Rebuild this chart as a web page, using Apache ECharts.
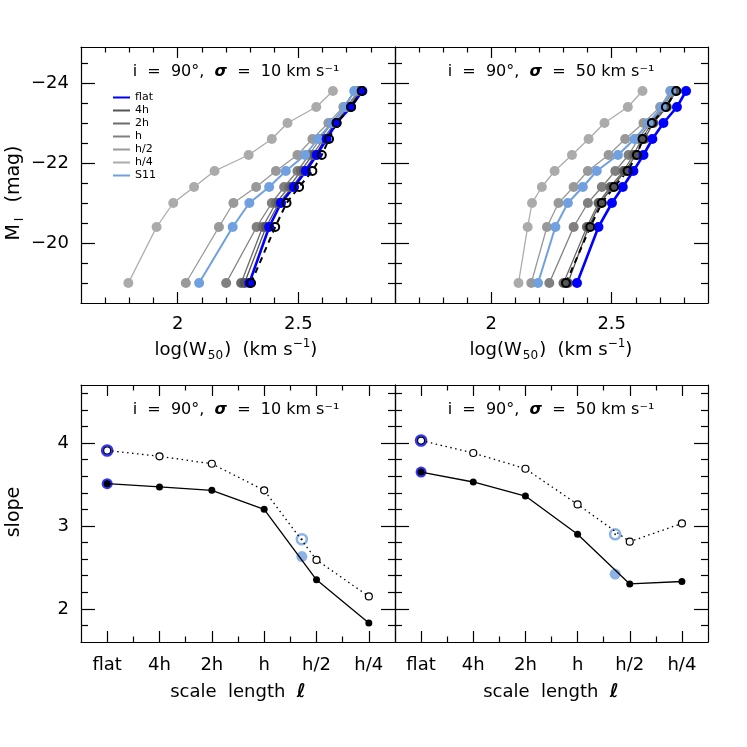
<!DOCTYPE html>
<html><head><meta charset="utf-8">
<script src="https://cdn.jsdelivr.net/npm/echarts@6/dist/echarts.min.js"></script>
<style>html,body{margin:0;padding:0;background:#fff}#c{width:747px;height:747px}</style>
</head><body><div id="c"></div>
<script>
// ---------- data ----------
const mags = [-19.0, -20.4, -21.0, -21.4, -21.8, -22.2, -22.6, -23.0, -23.4, -23.8];
const scaleNames = ['flat', '4h', '2h', 'h', 'h/2', 'h/4', 'S11'];
const scaleTicks = ['flat', '4h', '2h', 'h', 'h/2', 'h/4'];
// log(W50), sigma = 10 km/s
const w10_flat = [2.297, 2.379, 2.428, 2.482, 2.531, 2.576, 2.617, 2.658, 2.718, 2.765];
const w10_4h   = [2.277, 2.366, 2.420, 2.475, 2.523, 2.569, 2.610, 2.655, 2.714, 2.759];
const w10_2h   = [2.263, 2.352, 2.407, 2.462, 2.510, 2.558, 2.603, 2.651, 2.707, 2.755];
const w10_h    = [2.201, 2.327, 2.390, 2.441, 2.496, 2.544, 2.590, 2.638, 2.700, 2.748];
const w10_h2   = [2.034, 2.171, 2.231, 2.325, 2.407, 2.496, 2.558, 2.624, 2.686, 2.734];
const w10_h4   = [1.796, 1.913, 1.982, 2.068, 2.153, 2.294, 2.390, 2.455, 2.574, 2.643];
const w10_S11  = [2.089, 2.228, 2.297, 2.379, 2.448, 2.528, 2.581, 2.638, 2.693, 2.731];
const w10_ref  = [2.304, 2.404, 2.451, 2.503, 2.558, 2.597, 2.627, 2.658, 2.718, 2.762];
// log(W50), sigma = 50 km/s
const w50_flat = [2.356, 2.445, 2.501, 2.546, 2.590, 2.632, 2.669, 2.715, 2.771, 2.809];
const w50_4h   = [2.318, 2.404, 2.452, 2.503, 2.556, 2.600, 2.636, 2.673, 2.729, 2.768];
const w50_2h   = [2.300, 2.397, 2.445, 2.494, 2.549, 2.590, 2.625, 2.667, 2.722, 2.761];
const w50_h    = [2.241, 2.342, 2.401, 2.459, 2.515, 2.570, 2.611, 2.660, 2.715, 2.754];
const w50_h2   = [2.166, 2.231, 2.279, 2.342, 2.401, 2.487, 2.556, 2.632, 2.701, 2.743];
const w50_h4   = [2.113, 2.151, 2.169, 2.210, 2.263, 2.335, 2.404, 2.470, 2.567, 2.628];
const w50_S11  = [2.194, 2.266, 2.318, 2.380, 2.438, 2.526, 2.595, 2.653, 2.708, 2.747];
const w50_ref  = [2.310, 2.411, 2.459, 2.510, 2.566, 2.605, 2.628, 2.667, 2.725, 2.768];
// slopes vs scale length
const slope10_solid  = [3.51, 3.47, 3.43, 3.20, 2.35, 1.83];
const slope10_dotted = [3.91, 3.84, 3.75, 3.43, 2.59, 2.15];
const slope10_S11    = [2.63, 2.84];   // [solid, dotted]
const slope50_solid  = [3.65, 3.53, 3.36, 2.90, 2.30, 2.33];
const slope50_dotted = [4.03, 3.88, 3.69, 3.26, 2.81, 3.03];
const slope50_S11    = [2.42, 2.90];
const s11Pos = 3.72;   // S11 position on the scale-length axis

// ---------- styles ----------
const FONT = 'DejaVu Sans';
const colors = {'flat':'#0000ff','4h':'#555555','2h':'#6b6b6b','h':'#808080','h/2':'#999999','h/4':'#ababab','S11':'#70a0e0'};
const widths = {'flat':2.6,'4h':1.3,'2h':1.3,'h':1.3,'h/2':1.3,'h/4':1.3,'S11':2};
const grids = [
  {left:81, top:47, width:314, height:256},
  {left:395, top:47, width:313, height:256},
  {left:81, top:385, width:314, height:257},
  {left:395, top:385, width:313, height:257}
];
const xAxes = [], yAxes = [];
function addAxes(list, dim, gi, cfg) {
  const pos = dim === 'x' ? ['bottom','top'] : ['left','right'];
  const majLen = dim === 'x' ? 11 : 14, minLen = dim === 'x' ? 5.5 : 7;
  const mainIdx = list.length;
  pos.forEach((p, k) => {
    const base = {type:'value', gridIndex:gi, min:cfg.min, max:cfg.max, inverse:!!cfg.inverse,
      splitLine:{show:false}, silent:true, position:p};
    list.push(Object.assign({}, base, {
      axisLine:{show:true, onZero:false, lineStyle:{color:'#000', width:1.2}},
      axisTick:{show:true, inside:true, length:majLen, customValues:cfg.major, lineStyle:{color:'#000', width:1.2}},
      axisLabel:{show:(k === 0 && cfg.labels), customValues:cfg.major, formatter:cfg.fmt, margin:cfg.margin || 12,
        color:'#000', fontSize:18, fontFamily:FONT}
    }));
    list.push(Object.assign({}, base, {
      axisLine:{show:false, onZero:false},
      axisTick:{show:true, inside:true, length:minLen, customValues:cfg.minor, lineStyle:{color:'#000', width:1.2}},
      axisLabel:{show:false}
    }));
  });
  return mainIdx;
}
const topX = {min:1.6, max:2.9, major:[2, 2.5], minor:[1.7,1.8,1.9,2.1,2.2,2.3,2.4,2.6,2.7,2.8], fmt:v => String(v)};
const topY = {min:-24.9, max:-18.5, inverse:true, major:[-24,-22,-20],
  minor:[-24.5,-23.5,-23,-22.5,-21.5,-21,-20.5,-19.5,-19], fmt:v => '\u2212' + Math.abs(v)};
const botX = {min:-0.5, max:5.5, major:[0,1,2,3,4,5], minor:[0.5,1.5,2.5,3.5,4.5], margin:14, fmt:v => scaleTicks[Math.round(v)]};
const botY = {min:1.6, max:4.7, major:[2,3,4], minor:[1.8,2.2,2.4,2.6,2.8,3.2,3.4,3.6,3.8,4.2,4.4,4.6], fmt:v => String(v)};

const ax = [];
ax.push({x:addAxes(xAxes,'x',0,Object.assign({labels:true},topX)), y:addAxes(yAxes,'y',0,Object.assign({labels:true},topY))});
ax.push({x:addAxes(xAxes,'x',1,Object.assign({labels:true},topX)), y:addAxes(yAxes,'y',1,Object.assign({labels:false},topY))});
ax.push({x:addAxes(xAxes,'x',2,Object.assign({labels:true},botX)), y:addAxes(yAxes,'y',2,Object.assign({labels:true},botY))});
ax.push({x:addAxes(xAxes,'x',3,Object.assign({labels:true},botX)), y:addAxes(yAxes,'y',3,Object.assign({labels:false},botY))});

const series = [];
function tfPanel(p, sets, ref) {
  const order = ['h/4','h/2','h','2h','4h','S11','flat'];
  order.forEach(n => {
    series.push({type:'line', name:n, xAxisIndex:ax[p].x, yAxisIndex:ax[p].y,
      data: sets[n].map((w,i) => [w, mags[i]]),
      symbol:'circle', symbolSize:10, showSymbol:true,
      itemStyle:{color:colors[n]}, lineStyle:{color:colors[n], width:widths[n]}, silent:true});
  });
  series.push({type:'line', name:'ref', xAxisIndex:ax[p].x, yAxisIndex:ax[p].y,
    data: ref.map((w,i) => [w, mags[i]]),
    symbol:'circle', symbolSize:8,
    itemStyle:{color:'rgba(0,0,0,0)', borderColor:'#000', borderWidth:2},
    lineStyle:{color:'#000', width:2, type:[6,5]}, silent:true});
}
tfPanel(0, {'flat':w10_flat,'4h':w10_4h,'2h':w10_2h,'h':w10_h,'h/2':w10_h2,'h/4':w10_h4,'S11':w10_S11}, w10_ref);
tfPanel(1, {'flat':w50_flat,'4h':w50_4h,'2h':w50_2h,'h':w50_h,'h/2':w50_h2,'h/4':w50_h4,'S11':w50_S11}, w50_ref);

function slopePanel(p, solid, dotted, s11) {
  const xi = ax[p].x, yi = ax[p].y;
  series.push({type:'line', name:'solid'+p, xAxisIndex:xi, yAxisIndex:yi,
    data: solid.map((v,i) => [i, v]), symbol:'circle', symbolSize:7,
    itemStyle:{color:'#000'}, lineStyle:{color:'#000', width:1.3}, silent:true});
  series.push({type:'line', name:'dotted'+p, xAxisIndex:xi, yAxisIndex:yi,
    data: dotted.map((v,i) => [i, v]), symbol:'circle', symbolSize:7,
    itemStyle:{color:'#fff', borderColor:'#000', borderWidth:1.2},
    lineStyle:{color:'#000', width:1.3, type:[1.5,3.5]}, silent:true});
  series.push({type:'scatter', name:'flatS'+p, xAxisIndex:xi, yAxisIndex:yi,
    data:[[0, solid[0]]], symbol:'circle', symbolSize:11, itemStyle:{color:colors['flat']}, silent:true});
  series.push({type:'scatter', name:'s11S'+p, xAxisIndex:xi, yAxisIndex:yi,
    data:[[s11Pos, s11[0]]], symbol:'circle', symbolSize:11, itemStyle:{color:colors['S11']}, silent:true});
  series.push({type:'scatter', name:'flatD'+p, xAxisIndex:xi, yAxisIndex:yi,
    data:[[0, dotted[0]]], symbol:'circle', symbolSize:10,
    itemStyle:{color:'#fff', borderColor:colors['flat'], borderWidth:2.6}, silent:true});
  series.push({type:'scatter', name:'s11D'+p, xAxisIndex:xi, yAxisIndex:yi,
    data:[[s11Pos, s11[1]]], symbol:'circle', symbolSize:10,
    itemStyle:{color:'#fff', borderColor:colors['S11'], borderWidth:2.6}, silent:true});
  series.push({type:'scatter', name:'dots'+p, xAxisIndex:xi, yAxisIndex:yi,
    data: dotted.map((v,i) => [i, v]).concat([[s11Pos, s11[1]]]), symbol:'circle', symbolSize:2,
    itemStyle:{color:'#000'}, silent:true});
}
slopePanel(2, slope10_solid, slope10_dotted, slope10_S11);
slopePanel(3, slope50_solid, slope50_dotted, slope50_S11);

function title(x, y, sig) {
  return {type:'text', x:x, y:y, silent:true, style:{
    text:'{a|i  =  90°,  }{g|σ}{a|  =  ' + sig + ' km s⁻¹}', align:'center', verticalAlign:'middle',
    rich:{a:{fontSize:16, fontFamily:FONT, fill:'#000'}, g:{fontSize:16, fontFamily:FONT, fontStyle:'italic', fontWeight:'bold', fill:'#000'}}}};
}
const nameRich = {
  a:{fontSize:18, fontFamily:FONT, fill:'#000', lineHeight:24},
  s:{fontSize:12, fontFamily:FONT, fill:'#000', verticalAlign:'bottom', lineHeight:12, padding:[0,1,0,1]},
  p:{fontSize:12, fontFamily:FONT, fill:'#000', verticalAlign:'top', lineHeight:12},
  l:{fontSize:19, fontFamily:FONT, fontStyle:'italic', fontWeight:'bold', fill:'#000', lineHeight:24}
};
function xname(x, y, t) {
  return {type:'text', x:x, y:y, silent:true, style:{text:t, align:'center', verticalAlign:'middle', rich:nameRich}};
}
const wName = '{a|log(W}{s|50}{a|)  (km s}{p|−1}{a|)}';
const lName = '{a|scale  length  }{l|ℓ}';
const graphics = [
  title(236, 72, '10'), title(551, 72, '50'), title(236, 410, '10'), title(551, 410, '50'),
  xname(236, 350, wName), xname(551, 350, wName),
  xname(238, 692, lName), xname(551, 692, lName),
  {type:'text', x:14, y:193, rotation:Math.PI/2, silent:true, style:{text:'{m|M}{s|I}{m|  (mag)}', align:'center', verticalAlign:'middle',
    rich:{m:{fontSize:19, fontFamily:FONT, fill:'#000', lineHeight:24}, s:{fontSize:12, fontFamily:FONT, fill:'#000', verticalAlign:'bottom', lineHeight:12, padding:[0,3,0,3]}}}},
  {type:'text', x:14, y:512, rotation:Math.PI/2, silent:true, style:{text:'slope', align:'center', verticalAlign:'middle',
    fontSize:19, fontFamily:FONT, fill:'#000'}}
];

const chart = echarts.init(document.getElementById('c'), null, {renderer:'canvas'});
chart.setOption({
  animation:false,
  backgroundColor:'#fff',
  grid:grids,
  xAxis:xAxes,
  yAxis:yAxes,
  legend:{data:scaleNames, orient:'vertical', left:113, top:91, itemWidth:17, itemHeight:2, itemGap:0,
    icon:'rect', padding:0, selectedMode:false,
    textStyle:{fontSize:11, fontFamily:FONT, color:'#000', lineHeight:13}},
  series:series,
  graphic:graphics
});
</script></body></html>
